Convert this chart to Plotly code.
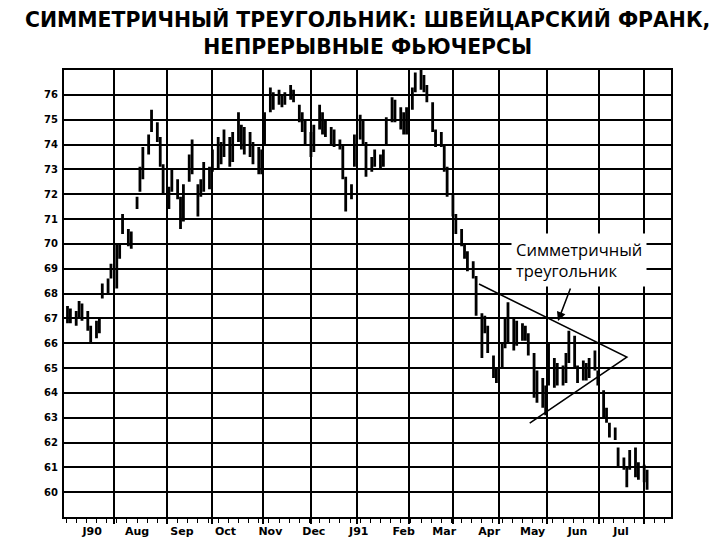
import pandas as pd
import plotly.graph_objects as go

title_line1 = "СИММЕТРИЧНЫЙ ТРЕУГОЛЬНИК: ШВЕЙЦАРСКИЙ ФРАНК,"
title_line2 = "НЕПРЕРЫВНЫЕ ФЬЮЧЕРСЫ"
annotation_text = "Симметричный<br>треугольник"

first_bar = "1990-06-26"
bar_step = "2B"

highs = [67.5, 67.4, 67.3, 67.7, 67.6, 67.3, 66.7, 66.9, 67.0, 68.4,
         68.6, 69.2, 70.0, 70.0, 71.2, 70.6, 70.5, 71.9, 73.1, 73.9,
         74.4, 75.4, 74.9, 74.3, 73.2, 72.3, 73.0, 72.6, 71.9, 72.4,
         73.6, 74.2, 72.4, 72.6, 73.3, 73.1, 73.8, 74.3, 74.1, 74.6,
         74.3, 74.5, 75.3, 74.8, 74.7, 74.5, 74.1, 73.9, 73.8, 75.3,
         76.3, 76.1, 76.2, 76.0, 76.1, 76.4, 76.2, 75.6, 75.3, 75.0,
         74.5, 74.8, 75.6, 75.3, 75.0, 74.7, 74.6, 74.2, 74.0, 72.7,
         72.4, 74.4, 75.2, 75.0, 74.1, 73.5, 73.8, 73.6, 73.8, 75.1,
         75.9, 75.8, 75.5, 75.3, 75.5, 76.3, 76.9, 77.0, 76.8, 76.4,
         75.7, 74.6, 74.5, 74.0, 73.1, 72.0, 71.2, 70.6, 70.0, 69.7,
         69.3, 68.7, 67.2, 67.1, 66.7, 65.5, 65.0, 66.0, 67.0, 67.65,
         67.0, 66.9, 66.8, 66.7, 66.4, 65.6, 64.9, 64.6, 64.3, 66.0,
         65.4, 65.2, 65.1, 65.6, 66.5, 66.3, 65.1, 65.3, 65.2, 65.4,
         65.7, 64.9, 64.1, 63.4, 62.8, 62.6, 61.8, 61.4, 61.0, 61.7,
         61.8, 61.2, 61.1, 60.9]

lows = [66.8, 66.8, 66.7, 67.0, 66.9, 66.5, 66.0, 66.2, 66.4, 67.8,
        68.0, 68.6, 68.2, 69.4, 70.4, 69.9, 69.8, 71.4, 72.1, 72.6,
        73.6, 74.5, 74.1, 73.1, 72.0, 71.4, 72.1, 71.8, 70.6, 70.9,
        72.5, 72.8, 71.1, 71.9, 72.1, 72.2, 72.9, 73.0, 73.2, 73.5,
        73.1, 73.3, 74.1, 73.8, 73.6, 73.5, 73.2, 72.8, 72.8, 74.0,
        75.3, 75.4, 75.6, 75.5, 75.6, 75.8, 75.7, 74.9, 74.5, 74.0,
        73.5, 73.7, 74.6, 74.4, 74.3, 74.0, 73.9, 73.8, 72.6, 71.3,
        71.8, 73.1, 74.2, 74.0, 72.7, 72.9, 73.1, 73.0, 73.1, 74.0,
        74.9, 74.9, 74.6, 74.4, 74.4, 75.4, 76.1, 76.2, 76.1, 75.7,
        74.5, 73.9, 73.9, 72.9, 71.9, 71.1, 70.4, 69.9, 69.4, 68.9,
        68.6, 67.1, 65.4, 66.4, 65.6, 64.6, 64.4, 65.0, 65.8, 66.0,
        65.7, 65.9, 66.1, 66.1, 65.5, 63.8, 63.6, 63.4, 63.1, 64.3,
        64.2, 64.3, 64.3, 64.4, 65.2, 65.0, 64.4, 64.5, 64.5, 64.6,
        64.9, 64.3, 63.0, 62.8, 62.2, 62.1, 61.0, 60.9, 60.2, 60.9,
        60.6, 60.5, 60.4, 60.1]

closes = [67.1, 67.0, 67.2, 67.4, 67.2, 66.6, 66.3, 66.7, 66.8, 68.2,
          68.5, 69.0, 69.6, 69.8, 70.9, 70.2, 70.3, 71.8, 72.9, 73.2,
          74.1, 74.8, 74.3, 73.4, 72.3, 71.9, 72.8, 72.0, 71.2, 72.1,
          73.2, 73.0, 71.5, 72.3, 72.9, 72.7, 73.5, 73.8, 73.6, 74.2,
          73.4, 74.0, 74.6, 74.0, 74.2, 73.8, 73.4, 73.1, 73.5, 75.0,
          75.9, 75.8, 75.9, 75.7, 76.0, 76.1, 75.9, 75.2, 74.8, 74.3,
          73.8, 74.5, 75.2, 74.7, 74.6, 74.4, 74.2, 74.0, 72.8, 71.7,
          72.2, 74.0, 74.8, 74.4, 73.1, 73.3, 73.4, 73.3, 73.6, 74.9,
          75.6, 75.2, 75.0, 74.6, 75.3, 76.1, 76.6, 76.5, 76.3, 75.9,
          74.8, 74.2, 74.3, 73.1, 72.2, 71.4, 70.6, 70.1, 69.6, 69.2,
          68.9, 67.3, 66.5, 66.9, 65.9, 64.9, 64.6, 65.9, 66.6, 67.2,
          66.2, 66.6, 66.4, 66.5, 65.7, 64.2, 64.5, 63.8, 63.5, 65.2,
          64.6, 64.8, 64.6, 65.3, 66.2, 65.3, 64.7, 65.0, 64.8, 65.1,
          65.2, 64.5, 63.2, 63.0, 62.5, 62.3, 61.2, 61.1, 60.5, 61.4,
          61.0, 60.8, 60.7, 60.5]

month_label_dates = ["1990-07-13", "1990-08-13", "1990-09-13", "1990-10-13",
                     "1990-11-13", "1990-12-13", "1991-01-13", "1991-02-13",
                     "1991-03-13", "1991-04-13", "1991-05-13", "1991-06-13",
                     "1991-07-13"]
month_labels = ["J90", "Aug", "Sep", "Oct", "Nov", "Dec", "J91", "Feb",
                "Mar", "Apr", "May", "Jun", "Jul"]
grid_dates = ["1990-07-28", "1990-09-03", "1990-10-04", "1990-11-08",
              "1990-12-11", "1991-01-12", "1991-02-17", "1991-03-19",
              "1991-04-20", "1991-05-23", "1991-06-28", "1991-07-29"]
week_tick_start = "1990-06-25"
week_tick_end = "1991-08-16"
y_ticks = list(range(60, 77))
x_range = ["1990-06-23 14:00", "1991-08-16 12:00"]
y_range = [59, 77]

tri_x = ["1991-04-06", "1991-07-17", "1991-05-11"]
tri_y = [68.38, 65.44, 62.78]
arrow_tip_x = "1991-05-30 12:00"
arrow_tip_y = 66.89

dates = pd.bdate_range(first_bar, periods=len(highs), freq=bar_step)
week_ticks = pd.date_range(week_tick_start, week_tick_end, freq="7D")

fig = go.Figure()
fig.add_trace(go.Ohlc(
    x=dates, open=closes, high=highs, low=lows, close=closes,
    increasing=dict(line=dict(color="black", width=2.8)),
    decreasing=dict(line=dict(color="black", width=2.8)),
    tickwidth=0.3, showlegend=False, hoverinfo="skip",
))
fig.add_trace(go.Scatter(
    x=tri_x, y=tri_y, mode="lines",
    line=dict(color="black", width=1.6), showlegend=False, hoverinfo="skip",
))
fig.add_trace(go.Scatter(x=[], y=[], xaxis="x2", showlegend=False))
fig.add_trace(go.Scatter(x=[], y=[], xaxis="x3", showlegend=False))

tick_font = dict(family="DejaVu Sans", size=10, color="black", weight="bold")

# the page body adds an 8px margin, so the figure is sized to fill the rest
fig.update_layout(
    template="none",
    width=712, height=532,
    margin=dict(l=56, r=49, t=62, b=23, autoexpand=False),
    paper_bgcolor="white", plot_bgcolor="white",
    showlegend=False,
    xaxis=dict(
        type="date", range=x_range, tickmode="array", tickvals=week_ticks,
        showticklabels=False, ticks="outside", ticklen=4, tickwidth=1,
        tickcolor="black", showgrid=False, zeroline=False, automargin=False,
        showline=True, linecolor="black", linewidth=2, mirror=True,
        rangeslider=dict(visible=False),
    ),
    xaxis2=dict(
        type="date", range=x_range, overlaying="x", anchor="y", side="bottom",
        tickmode="array", tickvals=month_label_dates, ticktext=month_labels,
        ticks="", showgrid=False, zeroline=False, showline=False, automargin=False,
        tickfont=dict(family="DejaVu Sans", size=11, color="black", weight="bold"),
        ticklabelstandoff=6,
    ),
    xaxis3=dict(
        type="date", range=x_range, overlaying="x", anchor="y", side="bottom",
        tickmode="array", tickvals=grid_dates, showticklabels=False,
        ticks="outside", ticklen=6, tickwidth=1.5, tickcolor="black",
        showgrid=True, gridcolor="black", gridwidth=1.6, automargin=False,
        zeroline=False, showline=False,
    ),
    yaxis=dict(
        range=y_range, tickmode="array", tickvals=y_ticks,
        ticks="", showgrid=True, gridcolor="black", gridwidth=1.6,
        zeroline=False, showline=True, linecolor="black", linewidth=2,
        mirror=True, tickfont=tick_font, ticklabelstandoff=2, automargin=False,
    ),
    annotations=[
        dict(text=title_line1 + "<br>" + title_line2, xref="paper", yref="paper",
             x=0.5, y=1.0835, xanchor="center", yanchor="middle", align="center",
             showarrow=False, borderpad=0,
             font=dict(family="DejaVu Sans", size=20.4, color="black", weight="bold")),
        dict(text=annotation_text, xref="paper", yref="paper", x=0.737, y=0.575,
             xanchor="left", yanchor="middle", align="left", showarrow=False,
             bgcolor="white", borderpad=4,
             font=dict(family="Open Sans", size=16.5, color="black")),
        dict(text="", x=arrow_tip_x, y=arrow_tip_y, xref="x", yref="y",
             showarrow=True, ax=13, ay=-34, arrowhead=2, arrowsize=1.2,
             arrowwidth=1.5, arrowcolor="black"),
    ],
)

fig.write_html("out.html")
